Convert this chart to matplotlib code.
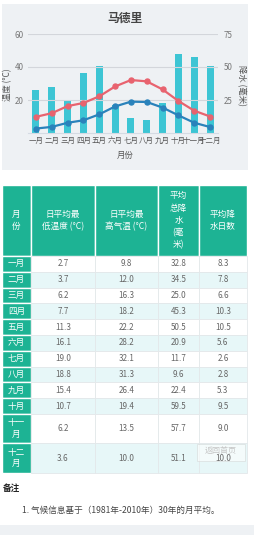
import matplotlib
matplotlib.use("Agg")
import matplotlib.pyplot as plt
from matplotlib.patches import Rectangle
import numpy as np

plt.rcParams['font.family'] = ['Noto Sans CJK SC', 'DejaVu Sans']

# ---------------- data ----------------
months = ['一月', '二月', '三月', '四月', '五月', '六月', '七月', '八月', '九月', '十月', '十一月', '十二月']
low_temp = [2.7, 3.7, 6.2, 7.7, 11.3, 16.1, 19.0, 18.8, 15.4, 10.7, 6.2, 3.6]
high_temp = [9.8, 12.0, 16.3, 18.2, 22.2, 28.2, 32.1, 31.3, 26.4, 19.4, 13.5, 10.0]
precip = [32.8, 34.5, 25.0, 45.3, 50.5, 20.9, 11.7, 9.6, 22.4, 59.5, 57.7, 51.1]
rain_days = [8.3, 7.8, 6.6, 10.3, 10.5, 5.6, 2.6, 2.8, 5.3, 9.5, 9.0, 10.0]
temp_ticks = [20, 40, 60]
precip_ticks = [25, 50, 75]
title = '马德里'
headers = ['月\n份', '日平均最\n低温度 (°C)', '日平均最\n高气温 (°C)', '平均\n总降\n水\n(毫\n米)', '平均降\n水日数']
note_title = '备注'
note_text = '1. 气候信息基于（1981年-2010年）30年的月平均。'

W, H = 255, 535
fig = plt.figure(figsize=(W / 100, H / 100), dpi=100)

# overlay axes in pixel coordinates
ov = fig.add_axes([0, 0, 1, 1], zorder=0)
ov.set_xlim(0, W)
ov.set_ylim(H, 0)
ov.axis('off')

# chart background
ov.add_patch(Rectangle((2, 4), 246, 166, facecolor='#eef1f4', edgecolor='none'))
ov.add_patch(Rectangle((0, 525), W, 10, facecolor='#eef1f4', edgecolor='none'))

# ---------------- chart ----------------
L, R, T, B = 28, 218, 34, 133
ax = fig.add_axes([L / W, 1 - B / H, (R - L) / W, (B - T) / H], zorder=2)
ax.patch.set_alpha(0)
x = np.arange(len(months))
ax.bar(x, precip, width=0.45, color='#3dc5d4', zorder=2)
ax.set_ylim(0, 75)
ax.set_xlim(-0.5, len(months) - 0.5)
ax.set_xticks(x)
ax.set_xticklabels(months)
ax.tick_params(axis='x', length=0, pad=3, labelsize=5.4, labelcolor='#555555')
for s in ['top', 'left', 'right']:
    ax.spines[s].set_visible(False)
ax.spines['bottom'].set_color('#d5dbe3')
ax.spines['bottom'].set_linewidth(0.8)

ax2 = ax.twinx()
ax2.patch.set_alpha(0)
ax2.set_ylim(0, 60)
ax2.yaxis.tick_left()
ax2.set_yticks(temp_ticks)
ax2.tick_params(axis='y', length=0, pad=3, labelsize=5.8, labelcolor='#777777')
for t in temp_ticks:
    ax2.axhline(t, color='#d3d6db', lw=0.8, zorder=0)
for s in ['top', 'left', 'right', 'bottom']:
    ax2.spines[s].set_visible(False)
ax2.plot(x, high_temp, color='#e8636f', lw=1.6, marker='o', ms=3.6, zorder=4)
ax2.plot(x, low_temp, color='#2a82bb', lw=1.6, marker='o', ms=3.6, zorder=4)

# precipitation ticks on the right (after twinx, which moves them left)
ax.yaxis.tick_right()
ax.set_yticks(precip_ticks)
ax.tick_params(axis='y', length=0, pad=4, labelsize=5.8, labelcolor='#777777')
ax.set_zorder(2)
ax2.set_zorder(3)

fig.text(125 / W, 1 - 18 / H, title, ha='center', va='center', fontsize=8.5,
         fontweight='bold', color='#444444')
fig.text(125 / W, 1 - 155 / H, '月份', ha='center', va='center', fontsize=6, color='#555555')
fig.text(8 / W, 1 - 85 / H, '温度 (°C)', ha='center', va='center', fontsize=6,
         color='#555555', rotation=90)
fig.text(241 / W, 1 - 85 / H, '降水 (毫米)', ha='center', va='center', fontsize=6,
         color='#555555', rotation=-90)

# ---------------- table ----------------
col_x = [2, 31, 95, 158, 199, 247]
top = 185
head_bottom = 256
row_h = [15.8] * 10 + [29, 30]
teal = '#1db394'
light = '#e7f7f8'

for c in range(5):
    ov.add_patch(Rectangle((col_x[c], top), col_x[c + 1] - col_x[c], head_bottom - top,
                           facecolor=teal, edgecolor='white', lw=1.0))
    ov.text((col_x[c] + col_x[c + 1]) / 2, (top + head_bottom) / 2, headers[c],
            ha='center', va='center', fontsize=6.2, color='white', linespacing=1.45)

columns = [low_temp, high_temp, precip, rain_days]
y = head_bottom
for r, m in enumerate(months):
    h = row_h[r]
    bg = light if r % 2 == 1 else 'white'
    lab = m if len(m) <= 2 else m[:2] + '\n' + m[2:]
    ov.add_patch(Rectangle((col_x[0], y), col_x[1] - col_x[0], h,
                           facecolor=teal, edgecolor='white', lw=1.0))
    ov.text((col_x[0] + col_x[1]) / 2, y + h / 2, lab, ha='center', va='center',
            fontsize=6.2, color='white', linespacing=1.35)
    for c in range(4):
        ov.add_patch(Rectangle((col_x[c + 1], y), col_x[c + 2] - col_x[c + 1], h,
                               facecolor=bg, edgecolor='#e3e8ea', lw=0.6))
        ov.text((col_x[c + 1] + col_x[c + 2]) / 2, y + h / 2, f'{columns[c][r]:.1f}',
                ha='center', va='center', fontsize=5.8, color='#666666')
    y += h

# "返回首页" button overlay
ov.add_patch(Rectangle((197, 444), 48, 17, facecolor='white', alpha=0.55,
                       edgecolor='#d0d0d0', lw=0.6))
ov.text(221, 450, '返回首页', ha='center', va='center', fontsize=5.8, color='#c5c5c5')

# notes
ov.text(3, 488, note_title, ha='left', va='center', fontsize=6.2, fontweight='bold', color='#222222')
ov.text(22, 510, note_text, ha='left', va='center', fontsize=6.2, color='#444444')

fig.savefig('out.png', dpi=100)
